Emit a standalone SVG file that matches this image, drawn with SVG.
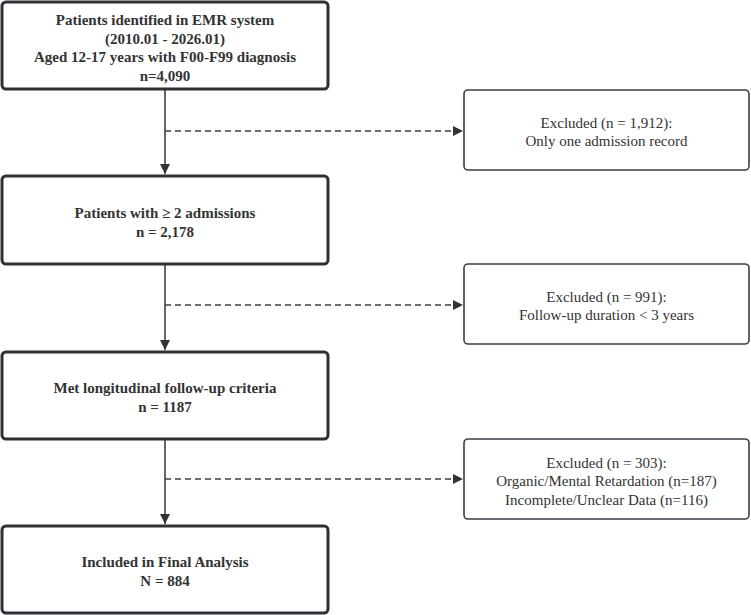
<svg xmlns="http://www.w3.org/2000/svg" width="751" height="615" viewBox="0 0 751 615">
<style>
.main{fill:#fff;stroke:#2c3136;stroke-width:3}
.side{fill:#fff;stroke:#3a3f44;stroke-width:1.6}
.tb{font-family:"Liberation Serif","Times New Roman",serif;font-size:15px;font-weight:bold;fill:#333;text-anchor:middle}
.tr{font-family:"Liberation Serif","Times New Roman",serif;font-size:15px;fill:#333;text-anchor:middle}
.solid{stroke:#404040;stroke-width:1.6;fill:none}
.dash{stroke:#404040;stroke-width:1.6;fill:none;stroke-dasharray:6 4}
</style>
<defs>
<marker id="ah" viewBox="0 0 10 10" refX="10" refY="5" markerWidth="10" markerHeight="10" markerUnits="userSpaceOnUse" orient="auto">
<path d="M0,0 L10,5 L0,10 Z" fill="#333"/>
</marker>
</defs>
<rect width="751" height="615" fill="#fff"/>
<g id="connectors">
<line class="solid" x1="165" y1="90" x2="165" y2="174" marker-end="url(#ah)"/>
<line class="solid" x1="165" y1="265" x2="165" y2="350" marker-end="url(#ah)"/>
<line class="solid" x1="165" y1="440" x2="165" y2="524" marker-end="url(#ah)"/>
<line class="dash" x1="165" y1="131" x2="463" y2="131" marker-end="url(#ah)"/>
<line class="dash" x1="165" y1="305" x2="463" y2="305" marker-end="url(#ah)"/>
<line class="dash" x1="165" y1="479" x2="463" y2="479" marker-end="url(#ah)"/>
</g>
<g id="n1">
<rect class="main" x="2" y="2" width="326" height="87" rx="4"/>
<text class="tb" x="165" y="25">Patients identified in EMR system</text>
<text class="tb" x="165" y="43.5">(2010.01 - 2026.01)</text>
<text class="tb" x="165" y="62">Aged 12-17 years with F00-F99 diagnosis</text>
<text class="tb" x="165" y="80.5">n=4,090</text>
</g>
<g id="n2">
<rect class="main" x="2" y="176" width="326" height="88" rx="4"/>
<text class="tb" x="165" y="218">Patients with ≥ 2 admissions</text>
<text class="tb" x="165" y="236.5">n = 2,178</text>
</g>
<g id="n3">
<rect class="main" x="2" y="352" width="326" height="87" rx="4"/>
<text class="tb" x="165" y="393">Met longitudinal follow-up criteria</text>
<text class="tb" x="165" y="411.5">n = 1187</text>
</g>
<g id="n4">
<rect class="main" x="2" y="526" width="326" height="87" rx="4"/>
<text class="tb" x="165" y="567">Included in Final Analysis</text>
<text class="tb" x="165" y="585.5">N = 884</text>
</g>
<g id="e1">
<rect class="side" x="464" y="90" width="285" height="80" rx="4"/>
<text class="tr" x="606.5" y="128">Excluded (n = 1,912):</text>
<text class="tr" x="606.5" y="146">Only one admission record</text>
</g>
<g id="e2">
<rect class="side" x="464" y="264" width="285" height="80" rx="4"/>
<text class="tr" x="606.5" y="302">Excluded (n = 991):</text>
<text class="tr" x="606.5" y="320">Follow-up duration &lt; 3 years</text>
</g>
<g id="e3">
<rect class="side" x="464" y="439" width="285" height="80" rx="4"/>
<text class="tr" x="606.5" y="467.5">Excluded (n = 303):</text>
<text class="tr" x="606.5" y="486">Organic/Mental Retardation (n=187)</text>
<text class="tr" x="606.5" y="504.5">Incomplete/Unclear Data (n=116)</text>
</g>
</svg>
